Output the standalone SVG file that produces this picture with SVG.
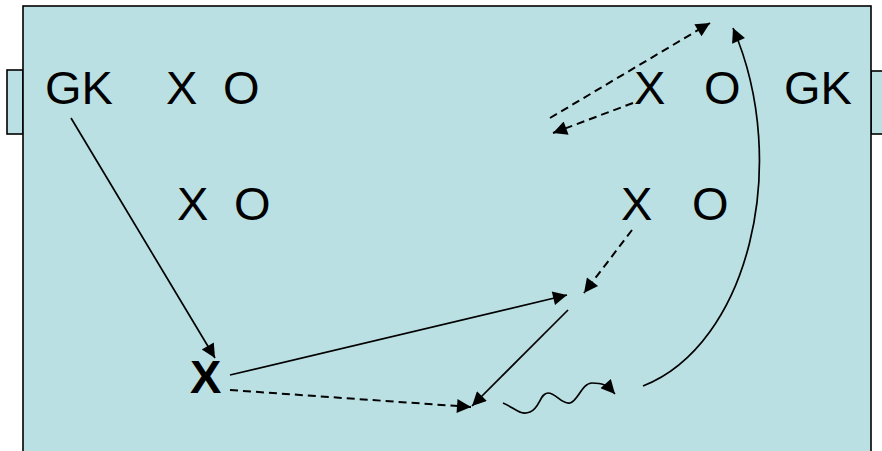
<svg xmlns="http://www.w3.org/2000/svg" width="882" height="451" viewBox="0 0 882 451">
<style>
.fld{fill:#bae0e3;stroke:#000;stroke-width:1.6}
.t{font-family:"Liberation Sans",Arial,sans-serif;font-size:47px;fill:#000}
.b{font-weight:bold}
.s{fill:none;stroke:#000;stroke-width:1.7}
.d{fill:none;stroke:#000;stroke-width:2;stroke-dasharray:8,5}
</style>
<defs>
<marker id="ah" viewBox="0 0 10 10" refX="10" refY="5" markerUnits="userSpaceOnUse" markerWidth="17" markerHeight="14" orient="auto">
<path d="M0,0 L10,5 L0,10 z" fill="#000"/>
</marker>
</defs>
<g id="pitch">
<rect class="fld" x="7" y="70" width="16" height="64"/>
<rect class="fld" x="871" y="71" width="20" height="63"/>
<rect class="fld" x="23" y="6" width="848" height="460"/>
</g>
<g id="gk-left"><text class="t" x="45" y="104">GK</text></g>
<g id="x-left-1"><text class="t" x="166" y="104">X</text></g>
<g id="o-left-1"><text class="t" x="223" y="104">O</text></g>
<g id="x-left-2"><text class="t" x="177" y="220">X</text></g>
<g id="o-left-2"><text class="t" x="234" y="220">O</text></g>
<g id="x-right-1"><text class="t" x="634" y="104">X</text></g>
<g id="o-right-1"><text class="t" x="704" y="104">O</text></g>
<g id="gk-right"><text class="t" x="784" y="104">GK</text></g>
<g id="x-right-2"><text class="t" x="621" y="220">X</text></g>
<g id="o-right-2"><text class="t" x="692" y="220">O</text></g>
<g id="x-bold"><text class="t b" x="190" y="393">X</text></g>
<g id="connectors">
<line class="s" x1="71" y1="118" x2="215" y2="358" marker-end="url(#ah)"/>
<line class="s" x1="230" y1="375" x2="567" y2="295" marker-end="url(#ah)"/>
<line class="d" x1="230" y1="390" x2="471" y2="407" marker-end="url(#ah)"/>
<line class="s" x1="568" y1="310" x2="472" y2="406" marker-end="url(#ah)"/>
<line class="d" x1="632" y1="230" x2="584" y2="293" marker-end="url(#ah)"/>
<path class="s" d="M503,403 C515,408 520,416 530,412 S540,393 548,393 S562,405 570,403 S582,383 592,383 S606,384 615,394" marker-end="url(#ah)"/>
<path class="s" d="M643,386 C748,345 792,165 733,28" marker-end="url(#ah)"/>
<line class="d" x1="550" y1="118" x2="710" y2="23" marker-end="url(#ah)"/>
<line class="d" x1="633" y1="103" x2="553" y2="133" marker-end="url(#ah)"/>
</g>
</svg>
